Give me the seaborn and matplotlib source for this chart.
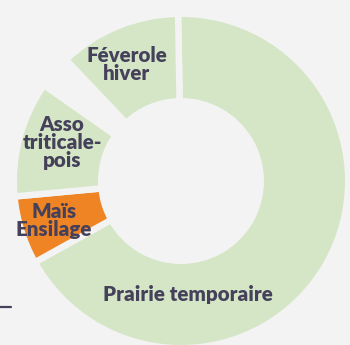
import matplotlib
matplotlib.use("Agg")
import matplotlib.pyplot as plt
import seaborn as sns
import numpy as np

# Crop areas (share of the rotation, %)
cultures = ["Prairie temporaire", "Maïs\nEnsilage", "Asso\ntriticale-\npois", "", "Féverole\nhiver"]
parts = [67.2, 6.6, 11.2, 3.2, 11.8]

BG = "#f3f3f3"
GREEN = "#d5e6c6"
ORANGE = "#ef8424"
INK = "#45415a"
couleurs = [GREEN, ORANGE, GREEN, BG, GREEN]

sns.set_theme(style="white")
plt.rcParams["font.family"] = ["Lato", "DejaVu Sans"]

fig = plt.figure(figsize=(3.5, 3.45), dpi=100, facecolor=BG)
ax = fig.add_axes([0, 0, 1, 1])
ax.set_facecolor(BG)

px = 1 / 164.0  # one pixel in data units (outer radius = 164 px)
edge_px = 6.5
r_out = 1 + (edge_px / 2) * px
r_in = 83 * px - (edge_px / 2) * px

wedges, _ = ax.pie(
    parts,
    colors=couleurs,
    startangle=91,
    counterclock=False,
    radius=r_out,
    wedgeprops=dict(width=r_out - r_in, edgecolor=BG, linewidth=edge_px * 72 / 100),
)

# Label positions (data units, centre of each text block)
label_pos = {
    "Féverole\nhiver": (-0.33, 0.71),
    "Asso\ntriticale-\npois": (-0.725, 0.235),
    "Maïs\nEnsilage": (-0.775, -0.24),
    "Prairie temporaire": (0.04, -0.69),
}
for nom, (x, y) in label_pos.items():
    ax.text(x, y, nom, ha="center", va="center", color=INK, fontsize=14.8,
            fontweight="heavy", linespacing=0.95)

ax.set_xlim(-181 * px, (350 - 181) * px)
ax.set_ylim(-(345 - 181) * px, 181 * px)
ax.set_aspect("auto")
ax.axis("off")

# short rule at the lower-left margin
fig.add_artist(plt.Line2D([0, 11 / 350], [1 - 306.5 / 345] * 2, color=INK, lw=1.6,
                          transform=fig.transFigure))

fig.savefig("out.png", dpi=100, facecolor=BG)
